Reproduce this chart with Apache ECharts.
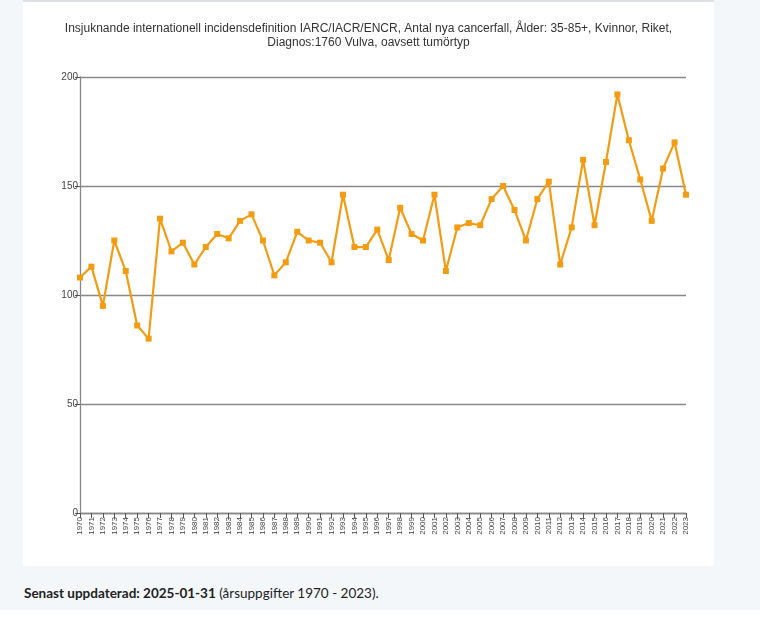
<!DOCTYPE html>
<html>
<head>
<meta charset="utf-8">
<script src="https://cdn.jsdelivr.net/npm/echarts@6/dist/echarts.min.js"></script>
<style>
  html, body { margin: 0; padding: 0; }
  body { width: 760px; height: 619px; background: #f4f7fa; position: relative; overflow: hidden; }
  #panel { position: absolute; left: 23px; top: 0; width: 691px; height: 566px; background: #fff; border-top: 2px solid #dde1e5; box-sizing: border-box; }
  #chart { width: 691px; height: 564px; }
  #note { position: absolute; left: 24px; top: 585px; font-family: Lato, "Open Sans", sans-serif; font-size: 13.5px; color: #222; }
  #bottom { position: absolute; left: 0; top: 610px; width: 760px; height: 9px; background: #fff; }
</style>
</head>
<body>
<div id="panel"><div id="chart"></div></div>
<div id="note"><b>Senast uppdaterad: 2025-01-31</b> (årsuppgifter 1970 - 2023).</div>
<div id="bottom"></div>
<script>
var chartTitle = 'Insjuknande internationell incidensdefinition IARC/IACR/ENCR, Antal nya cancerfall, Ålder: 35-85+, Kvinnor, Riket,\nDiagnos:1760 Vulva, oavsett tumörtyp';

var years = [];
for (var y = 1970; y <= 2023; y++) years.push(String(y));

var cases = [108, 113, 95, 125, 111, 86, 80, 135, 120, 124,
             114, 122, 128, 126, 134, 137, 125, 109, 115, 129,
             125, 124, 115, 146, 122, 122, 130, 116, 140, 128,
             125, 146, 111, 131, 133, 132, 144, 150, 139, 125,
             144, 152, 114, 131, 162, 132, 161, 192, 171, 153,
             134, 158, 170, 146];

var lineColor = '#f39c12';

var chart = echarts.init(document.getElementById('chart'));
chart.setOption({
    animation: false,
    title: {
        text: chartTitle,
        left: 'center',
        top: 15,
        textStyle: {
            fontFamily: 'Liberation Sans',
            fontSize: 12,
            fontWeight: 'normal',
            color: '#333',
            lineHeight: 14
        }
    },
    grid: { left: 57, right: 28, top: 75, bottom: 53 },
    xAxis: {
        type: 'category',
        data: years,
        boundaryGap: false,
        axisLine: { lineStyle: { color: '#888', width: 1.3 } },
        axisTick: { alignWithLabel: true, length: 5, lineStyle: { color: '#555' } },
        axisLabel: {
            interval: 0,
            rotate: 90,
            fontSize: 8,
            color: '#444',
            fontFamily: 'Liberation Sans Narrow, Liberation Sans',
            margin: 4
        }
    },
    yAxis: {
        type: 'value',
        min: 0,
        max: 200,
        interval: 50,
        axisLine: { show: true, lineStyle: { color: '#888', width: 1.3 } },
        axisTick: { show: true, length: 5, lineStyle: { color: '#555' } },
        splitLine: { lineStyle: { color: '#888', width: 1.3 } },
        axisLabel: { fontSize: 10, color: '#444', fontFamily: 'Liberation Sans Narrow, Liberation Sans', margin: 2 }
    },
    series: [{
        type: 'line',
        data: cases,
        symbol: 'rect',
        symbolSize: 6,
        itemStyle: { color: lineColor },
        lineStyle: { color: lineColor, width: 2.2 }
    }]
});
</script>
</body>
</html>
